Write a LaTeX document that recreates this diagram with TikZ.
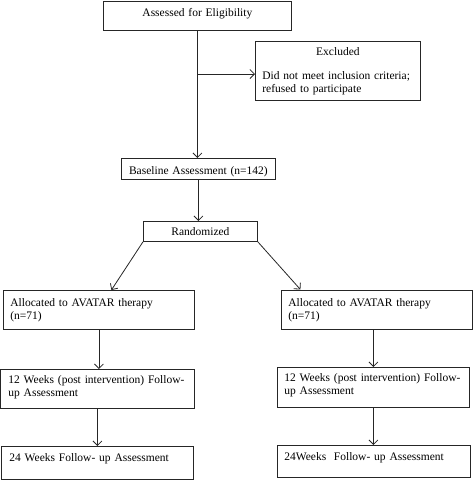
\documentclass[tikz,border=0pt]{standalone}
\usepackage{fontspec}
\setmainfont{Liberation Serif}
\usetikzlibrary{arrows.meta}
\tikzset{
  box/.style={draw=black!85, line width=.8pt, anchor=north west, inner ysep=0pt, inner xsep=7pt,
    font=\fontsize{11.5}{13}\selectfont, align=left},
  flow/.style={draw=black!85, line width=.8pt, ->, >={Straight Barb[length=4.5pt,width=9pt]}}
}
\begin{document}
\begin{tikzpicture}[x=1pt, y=-1pt]
\useasboundingbox (0,0) rectangle (473,480);
\node[box, align=center, text width=174, text height=15.5, text depth=14] (elig) at (103,0.5) {Assessed for Eligibility};
\node[box, text width=151, text height=14.5, text depth=44.5] (excl) at (255,41)
  {\makebox[\linewidth]{Excluded}\\[10.5pt]Did not meet inclusion criteria;\\refused to participate};
\node[box, align=center, text width=140, text height=16.5, text depth=4.5] (base) at (121,158) {Baseline Assessment (n=142)};
\node[box, align=center, text width=100, text height=14.5, text depth=5.5] (rand) at (143,221) {Randomized};
\node[box, text width=177, text height=16.5, text depth=22.5] (allocL) at (3,290) {Allocated to AVATAR therapy\\(n=71)};
\node[box, text width=177, text height=17, text depth=22.5] (allocR) at (281,289.5) {Allocated to AVATAR therapy\\(n=71)};
\node[box, inner xsep=7.5pt, text width=178, text height=14, text depth=25] (wkL) at (0.5,369) {12 Weeks (post intervention) Follow-\\up Assessment};
\node[box, text width=178, text height=14.5, text depth=25.5] (wkR) at (277,367) {12 Weeks (post intervention) Follow-\\up Assessment};
\node[box, inner xsep=8pt, text width=176, text height=15.5, text depth=17.5] (endL) at (1,446) {24 Weeks Follow- up Assessment};
\node[box, text width=179, text height=15.5, text depth=16.5] (endR) at (277,445) {24Weeks~ Follow- up Assessment};
\coordinate (split) at (197,74);
\draw[flow] (elig.south) -- (elig.south |- base.north);
\draw[flow] (split) -- (excl.west |- split);
\draw[flow] (base.south) -- (base.south |- rand.north);
\draw[flow] (rand.south west) -- ([xshift=12.5pt]allocL.north);
\draw[flow] (rand.south east) -- ([xshift=-76.5pt]allocR.north);
\draw[flow] (allocL.south) -- (allocL.south |- wkL.north);
\draw[flow] (wkL.south) -- (wkL.south |- endL.north);
\draw[flow] (wkR.north |- allocR.south) -- (wkR.north);
\draw[flow] (wkR.south) -- (wkR.south |- endR.north);
\end{tikzpicture}
\end{document}
